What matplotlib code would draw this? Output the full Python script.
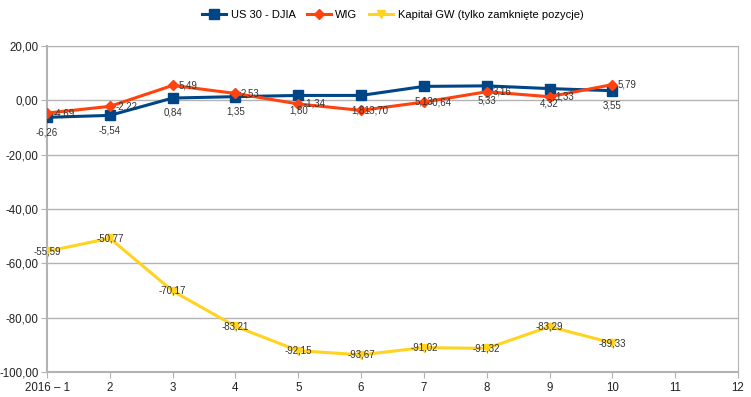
import matplotlib
matplotlib.use("Agg")
import matplotlib.pyplot as plt
from matplotlib.ticker import FuncFormatter

plt.rcParams['font.family'] = ['Liberation Sans', 'DejaVu Sans']

months = [1, 2, 3, 4, 5, 6, 7, 8, 9, 10]
djia = [-6.26, -5.54, 0.84, 1.35, 1.80, 1.81, 5.13, 5.33, 4.32, 3.55]
wig = [-4.69, -2.22, 5.49, 2.53, -1.34, -3.70, -0.64, 3.16, 1.33, 5.79]
kapital = [-55.59, -50.77, -70.17, -83.21, -92.15, -93.67, -91.02, -91.32, -83.29, -89.33]
xticks = list(range(1, 13))
xlabels = ['2016 – 1'] + [str(i) for i in range(2, 13)]

def fmt(v):
    return '{:.2f}'.format(v).replace('.', ',')

fig = plt.figure(figsize=(7.51, 3.97), dpi=100)
ax = fig.add_axes([47/751, 25/397, 691/751, 326/397])

c_djia = '#004586'
c_wig = '#ff420e'
c_kap = '#ffd320'

ax.plot(months, djia, color=c_djia, lw=2.2, marker='s', ms=6.5, label='US 30 - DJIA', zorder=4)
ax.plot(months, wig, color=c_wig, lw=2.2, marker='D', ms=5, label='WIG', zorder=5)
ax.plot(months, kapital, color=c_kap, lw=2.2, marker='v', ms=6, label='Kapitał GW (tylko zamknięte pozycje)', zorder=3)

for x, v in zip(months, djia):
    ax.annotate(fmt(v), (x, v), xytext=(0, -7), textcoords='offset points',
                ha='center', va='top', fontsize=7, color='#333333', zorder=6)
for x, v in zip(months, wig):
    ax.annotate(fmt(v), (x, v), xytext=(4, 0), textcoords='offset points',
                ha='left', va='center', fontsize=7, color='#333333', zorder=6)
for x, v in zip(months, kapital):
    ax.annotate(fmt(v), (x, v), xytext=(0, 0), textcoords='offset points',
                ha='center', va='center', fontsize=7, color='#333333', zorder=6)

ax.set_xlim(1, 12)
ax.set_ylim(-100, 20)
ax.set_xticks(xticks)
ax.set_xticklabels(xlabels)
ax.set_yticks(range(-100, 21, 20))
ax.yaxis.set_major_formatter(FuncFormatter(lambda v, p: fmt(v)))
ax.grid(axis='y', color='#b3b3b3', lw=1)
ax.set_axisbelow(True)
for s in ax.spines.values():
    s.set_color('#b3b3b3')
ax.spines['left'].set_linewidth(1.5)
ax.spines['bottom'].set_linewidth(1.5)
ax.tick_params(axis='both', colors='#b3b3b3', labelcolor='#222222', labelsize=8.3, length=4)
ax.tick_params(axis='y', pad=2)

ax.legend(loc='upper center', bbox_to_anchor=(0.5, 1.14), ncol=3, frameon=False,
          fontsize=8, handlelength=2.2, columnspacing=1.0, handletextpad=0.4)

fig.savefig('out.png', dpi=100)
